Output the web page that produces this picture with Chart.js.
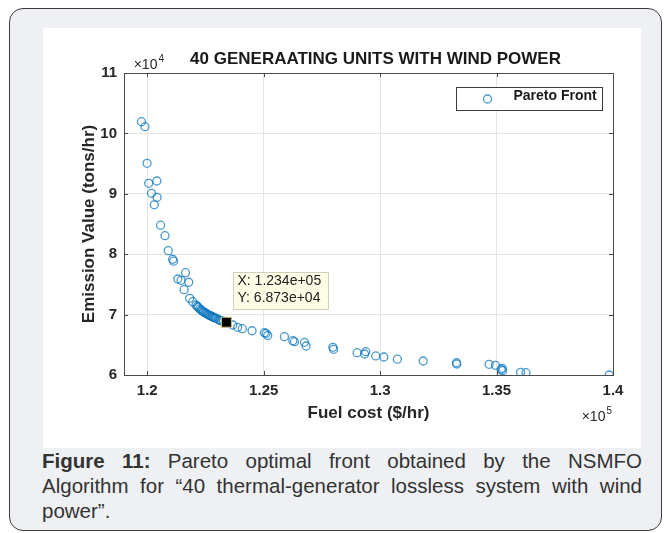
<!DOCTYPE html>
<html lang="en">
<head>
<meta charset="UTF-8">
<title>Pareto Front - 40 generating units with wind power</title>
<style>
    body {
        margin: 0;
        background: #fff;
        font-family: "Liberation Sans", Arial, sans-serif;
    }
    .figure-box {
        position: absolute;
        left: 9px;
        top: 8px;
        width: 651px;
        height: 521px;
        border: 1px solid #3c3c3c;
        border-radius: 14px;
        background: #eff0f3;
    }
    .plot-panel {
        position: absolute;
        left: 33px;
        top: 19px;
        width: 598px;
        height: 420px;
        background: #fff;
    }
    .caption {
        position: absolute;
        left: 32px;
        top: 439px;
        width: 600px;
        font-size: 20.5px;
        line-height: 25px;
        color: #333;
    }
    .caption .line {
        text-align: justify;
        text-align-last: justify;
    }
</style>
</head>
<body>
<div class="figure-box">
    <div class="plot-panel">
        <canvas id="paretoChart" width="598" height="420"></canvas>
    </div>
    <div class="caption">
        <div class="line"><b>Figure 11:</b> Pareto optimal front obtained by the NSMFO</div>
        <div class="line">Algorithm for “40 thermal-generator lossless system with wind</div>
        <div>power”.</div>
    </div>
</div>

<script src="https://cdn.jsdelivr.net/npm/chart.js"></script>
<script>
    // Pareto front: fuel cost ($/hr) vs emission (tons/hr)
    const fuelCost = [
        119750, 119900, 119990, 120060, 120410, 120180, 120420, 120300, 120570, 120760,
        120900, 121090, 121130, 121640, 121310, 121450, 121780, 121580, 121820, 121950,
        122090, 122150, 122190, 122250, 122310, 122360, 122410, 122470, 122520, 122570,
        122620, 122680, 122740, 122790, 122840, 122900, 122950, 123050, 123120, 123170,
        123270, 123670, 123880, 124080, 124500, 125030, 125100, 125170, 125890, 126250,
        126320, 126750, 126820, 127970, 128000, 129010, 129380, 129330, 129810, 130160,
        130740, 131850, 133280, 133290, 134680, 134950, 135240, 135260, 135200, 136030,
        136260, 139840
    ];
    const emission = [
        101940, 101110, 95050, 91740, 92120, 90080, 89420, 88180, 84800, 83060,
        80580, 79160, 78840, 76940, 75890, 75680, 75360, 74120, 72700, 72140,
        71590, 71380, 71180, 70960, 70760, 70610, 70460, 70320, 70220, 70090,
        69970, 69850, 69770, 69650, 69550, 69450, 69390, 69190, 69060, 68990,
        68910, 68280, 67900, 67670, 67330, 67000, 66870, 66540, 66340, 65680,
        65510, 65410, 64800, 64590, 64250, 63690, 63860, 63480, 63150, 62980,
        62620, 62320, 62040, 61820, 61770, 61610, 61110, 60710, 60910, 60450,
        60380, 60000
    ];

    // selected solution shown with a data tip
    const tipPoint = { x: 123400, y: 68730 };

    const xTicks = [120000, 125000, 130000, 135000, 140000];
    const xTickLabels = ['1.2', '1.25', '1.3', '1.35', '1.4'];
    const yTicks = [60000, 70000, 80000, 90000, 100000, 110000];
    const yTickLabels = ['6', '7', '8', '9', '10', '11'];

    const FONT = '"Liberation Sans", Arial, sans-serif';
    const markerColor = 'rgba(0,114,189,0.72)';
    const axisColor = '#4a4a4a';

    // MATLAB style exponent, e.g. 1.234e+05
    function sci(v) {
        const exp = Math.floor(Math.log10(Math.abs(v)));
        const mant = v / Math.pow(10, exp);
        return mant.toFixed(3) + 'e' + (exp < 0 ? '-' : '+') + String(Math.abs(exp)).padStart(2, '0');
    }

    function drawPower(ctx, xRight, baseline, exp) {
        ctx.font = '14px ' + FONT;
        const wBase = ctx.measureText('×10').width;
        ctx.font = '10px ' + FONT;
        const wExp = ctx.measureText(exp).width;
        const left = xRight - wBase - wExp - 1;
        ctx.fillStyle = '#262626';
        ctx.textAlign = 'left';
        ctx.textBaseline = 'alphabetic';
        ctx.font = '14px ' + FONT;
        ctx.fillText('×10', left, baseline);
        ctx.font = '10px ' + FONT;
        ctx.fillText(exp, left + wBase + 1, baseline - 7);
    }

    const figureDecor = {
        id: 'figureDecor',
        afterDraw(chart) {
            const ctx = chart.ctx;
            const area = chart.chartArea;
            const xs = chart.scales.x;
            const ys = chart.scales.y;
            ctx.save();

            // axes box and inward ticks
            ctx.strokeStyle = axisColor;
            ctx.lineWidth = 1;
            ctx.strokeRect(Math.round(area.left) + 0.5, Math.round(area.top) + 0.5,
                Math.round(area.right - area.left), Math.round(area.bottom - area.top));
            ctx.beginPath();
            xTicks.forEach(v => {
                const px = Math.round(xs.getPixelForValue(v)) + 0.5;
                ctx.moveTo(px, area.bottom); ctx.lineTo(px, area.bottom - 4);
                ctx.moveTo(px, area.top); ctx.lineTo(px, area.top + 4);
            });
            yTicks.forEach(v => {
                const py = Math.round(ys.getPixelForValue(v)) + 0.5;
                ctx.moveTo(area.left, py); ctx.lineTo(area.left + 4, py);
                ctx.moveTo(area.right, py); ctx.lineTo(area.right - 4, py);
            });
            ctx.stroke();

            // title
            ctx.fillStyle = '#1a1a1a';
            ctx.font = 'bold 17px ' + FONT;
            ctx.textAlign = 'center';
            ctx.textBaseline = 'middle';
            ctx.fillText('40 GENERAATING UNITS WITH WIND POWER', (area.left + area.right) / 2 + 7, 31);

            // axis multipliers
            drawPower(ctx, area.left + 40, area.top - 4, '4');
            drawPower(ctx, area.right - 1, 393, '5');

            // legend
            const lw = 146, lh = 23;
            const lx = Math.round(area.right - 11 - lw) + 0.5;
            const ly = Math.round(area.top + 14) + 0.5;
            ctx.fillStyle = '#fff';
            ctx.fillRect(lx, ly, lw, lh);
            ctx.strokeStyle = '#3a3a3a';
            ctx.strokeRect(lx, ly, lw, lh);
            ctx.strokeStyle = markerColor;
            ctx.lineWidth = 1.3;
            ctx.beginPath();
            ctx.arc(lx + 31, ly + lh / 2, 4, 0, Math.PI * 2);
            ctx.stroke();
            ctx.fillStyle = '#1a1a1a';
            ctx.font = 'bold 14px ' + FONT;
            ctx.textAlign = 'left';
            ctx.fillText(chart.data.datasets[0].label, lx + 57, ly + lh / 2 + 1);

            // data tip box
            const px = xs.getPixelForValue(tipPoint.x);
            const py = ys.getPixelForValue(tipPoint.y);
            const bx = Math.round(px + 7) + 0.5;
            const by = Math.round(py - 50) + 0.5;
            ctx.fillStyle = '#fdfde6';
            ctx.fillRect(bx, by, 95, 37);
            ctx.strokeStyle = '#cfcfbd';
            ctx.lineWidth = 1;
            ctx.strokeRect(bx, by, 95, 37);
            ctx.fillStyle = '#222';
            ctx.font = '14px ' + FONT;
            ctx.fillText('X: ' + sci(tipPoint.x), bx + 4, by + 12);
            ctx.fillText('Y: ' + sci(tipPoint.y), bx + 4, by + 29);

            ctx.restore();
        }
    };

    const points = fuelCost.map((x, i) => ({ x: x, y: emission[i] }));

    new Chart(document.getElementById('paretoChart'), {
        type: 'scatter',
        data: {
            datasets: [
                {
                    label: 'Pareto Front',
                    data: points,
                    order: 1,
                    pointStyle: 'circle',
                    pointRadius: 4,
                    borderWidth: 1.3,
                    borderColor: markerColor,
                    backgroundColor: 'rgba(0,0,0,0)'
                },
                {
                    label: 'Data tip',
                    data: [tipPoint],
                    order: 0,
                    pointStyle: 'rect',
                    pointRadius: 7,
                    borderWidth: 1,
                    borderColor: '#c9bd7a',
                    backgroundColor: '#000'
                }
            ]
        },
        options: {
            responsive: false,
            animation: false,
            layout: { padding: { top: 45, right: 28, bottom: 0, left: 0 } },
            plugins: {
                legend: { display: false },
                tooltip: { enabled: false }
            },
            scales: {
                x: {
                    type: 'linear',
                    min: 119000,
                    max: 140000,
                    afterBuildTicks: s => { s.ticks = xTicks.map(v => ({ value: v })); },
                    afterFit: s => { s.height = 73; },
                    grid: { color: '#e4e4e4', drawTicks: false },
                    border: { display: false },
                    ticks: {
                        padding: 7,
                        color: '#262626',
                        font: { family: FONT, size: 15, weight: 'bold' },
                        callback: v => xTickLabels[xTicks.indexOf(v)]
                    },
                    title: {
                        display: true,
                        text: 'Fuel cost ($/hr)',
                        color: '#262626',
                        font: { family: FONT, size: 17, weight: 'bold' },
                        padding: { top: 0, bottom: 24 }
                    }
                },
                y: {
                    min: 60000,
                    max: 110000,
                    afterBuildTicks: s => { s.ticks = yTicks.map(v => ({ value: v })); },
                    afterFit: s => { s.width = 81; },
                    grid: { color: '#e4e4e4', drawTicks: false },
                    border: { display: false },
                    ticks: {
                        padding: 7,
                        color: '#262626',
                        font: { family: FONT, size: 15, weight: 'bold' },
                        callback: v => yTickLabels[yTicks.indexOf(v)]
                    },
                    title: {
                        display: true,
                        text: 'Emission Value (tons/hr)',
                        color: '#262626',
                        font: { family: FONT, size: 17, weight: 'bold' },
                        padding: { top: 36, bottom: 0 }
                    }
                }
            }
        },
        plugins: [figureDecor]
    });
</script>
</body>
</html>
